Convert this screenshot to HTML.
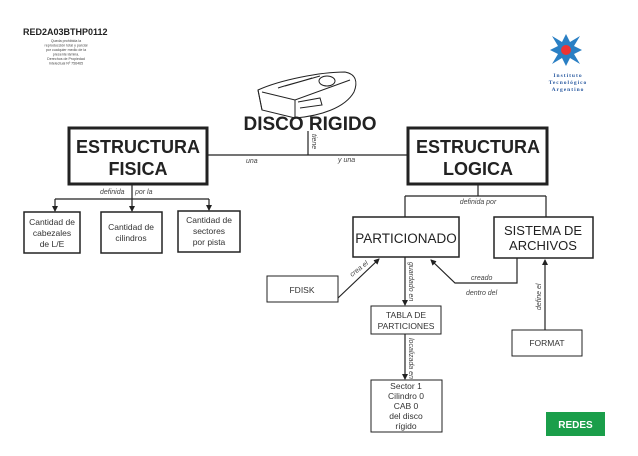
<!DOCTYPE html>
<html><head><meta charset="utf-8"><style>
body{margin:0;background:#fff;width:638px;height:451px;overflow:hidden;font-family:"Liberation Sans",sans-serif}
</style></head><body>
<svg width="638" height="451" viewBox="0 0 638 451" xmlns="http://www.w3.org/2000/svg" font-family="Liberation Sans, sans-serif">
<defs><marker id="a" markerWidth="6" markerHeight="6" refX="5" refY="3" orient="auto" markerUnits="userSpaceOnUse"><path d="M0,0 L6,3 L0,6 z" fill="#222"/></marker></defs>
<text x="23" y="35" font-size="9" font-weight="bold" fill="#222">RED2A03BTHP0112</text>
<g font-size="3.6" fill="#444" text-anchor="middle">
<text x="66" y="42">Queda prohibida la</text><text x="66" y="46.5">reproducción total y parcial</text>
<text x="66" y="51">por cualquier medio de la</text><text x="66" y="55.5">presente lámina.</text>
<text x="66" y="60">Derechos de Propiedad</text><text x="66" y="64.5">Intelectual Nº 756465</text></g>
<g transform="translate(566,50)">
<path d="M-14,-14 L-4,-8 L0,-16 L4,-8 L14,-14 L8,-4 L16,0 L8,4 L14,14 L4,8 L0,16 L-4,8 L-14,14 L-8,4 L-16,0 L-8,-4 z" fill="#2a7fc4"/>
<circle r="5" fill="#e33"/></g>
<g font-size="5.5" font-weight="bold" fill="#2a5aa0" text-anchor="middle" font-family="Liberation Serif, serif" letter-spacing="1">
<text x="568" y="77">Instituto</text><text x="568" y="84">Tecnológico</text><text x="568" y="91">Argentino</text></g>
<g fill="none" stroke="#222" stroke-width="1">
<path d="M258,90 C280,80 320,72 345,72 C356,74 358,82 354,92 C345,108 320,116 295,118 L262,110 Z"/>
<path d="M258,90 L262,110"/>
<path d="M262,92 L295,100 L350,80"/>
<path d="M295,100 L295,118"/>
<ellipse cx="327" cy="81" rx="8" ry="5"/>
<path d="M285,86 L320,76 M278,88 C290,84 300,82 312,78"/>
<path d="M298,102 L320,98 L322,105 L300,108"/>
</g>
<text x="310" y="130" font-size="19" font-weight="bold" fill="#222" text-anchor="middle">DISCO RIGIDO</text>
<g stroke="#222" fill="none">
<rect x="69" y="128" width="138" height="56" stroke-width="3"/>
<rect x="408" y="128" width="139" height="56" stroke-width="3"/>
<path d="M207,155 H408 M308,131 V155" stroke-width="1.2"/>
</g>
<g font-size="18" font-weight="bold" fill="#222" text-anchor="middle">
<text x="138" y="153">ESTRUCTURA</text><text x="138" y="175">FISICA</text>
<text x="478" y="153">ESTRUCTURA</text><text x="478" y="175">LOGICA</text></g>
<g font-size="7" font-style="italic" fill="#444">
<text x="246" y="163">una</text><text x="338" y="162">y una</text>
<text transform="translate(312,134) rotate(90)">tiene</text>
<text x="100" y="194">definida</text><text x="135" y="194">por la</text>
<text x="478" y="204" text-anchor="middle">definida por</text>
<text transform="translate(352,277) rotate(-38)">crea el</text>
<text transform="translate(409,262) rotate(90)">guardado en</text>
<text transform="translate(409,338) rotate(90)">localizada en</text>
<text x="471" y="280">creado</text><text x="466" y="295">dentro del</text>
<text transform="translate(541,310) rotate(-90)">define el</text>
</g>
<g stroke="#222" stroke-width="1.2" fill="none">
<path d="M132,184 V199 M55,199 H209"/>
<path d="M55,199 V211" marker-end="url(#a)"/><path d="M132,199 V211" marker-end="url(#a)"/><path d="M209,199 V210" marker-end="url(#a)"/>
<rect x="24" y="212" width="56" height="41" stroke-width="1.5"/>
<rect x="101" y="212" width="61" height="41" stroke-width="1.5"/>
<rect x="178" y="211" width="62" height="41" stroke-width="1.5"/>
</g>
<g font-size="8.5" fill="#333" text-anchor="middle">
<text x="52" y="225">Cantidad de</text><text x="52" y="236">cabezales</text><text x="52" y="247">de L/E</text>
<text x="131" y="230">Cantidad de</text><text x="131" y="241">cilindros</text>
<text x="209" y="223">Cantidad de</text><text x="209" y="234">sectores</text><text x="209" y="245">por pista</text>
</g>
<g stroke="#222" stroke-width="1.2" fill="none">
<path d="M478,184 V196 M405,196 H546 M405,196 V217 M546,196 V217"/>
<rect x="353" y="217" width="106" height="40" stroke-width="1.5"/>
<rect x="494" y="217" width="99" height="41" stroke-width="1.5"/>
<rect x="267" y="276" width="71" height="26" stroke-width="1"/>
<rect x="371" y="306" width="70" height="28" stroke-width="1"/>
<rect x="371" y="380" width="71" height="52" stroke-width="1"/>
<rect x="512" y="330" width="70" height="26" stroke-width="1"/>
<path d="M338,298 L379,259" marker-end="url(#a)"/>
<path d="M405,257 V305" marker-end="url(#a)"/>
<path d="M405,334 V379" marker-end="url(#a)"/>
<path d="M517,258 V283 H455 L431,260" marker-end="url(#a)"/>
<path d="M545,330 V260" marker-end="url(#a)"/>
</g>
<g fill="#222" text-anchor="middle">
<text x="406" y="243" font-size="13.5">PARTICIONADO</text>
<text x="543" y="235" font-size="13">SISTEMA DE</text><text x="543" y="250" font-size="13">ARCHIVOS</text>
<g font-size="8.5" fill="#333">
<text x="302" y="293">FDISK</text>
<text x="406" y="318">TABLA DE</text><text x="406" y="329">PARTICIONES</text>
<text x="406" y="389">Sector 1</text><text x="406" y="399">Cilindro 0</text><text x="406" y="409">CAB 0</text><text x="406" y="419">del disco</text><text x="406" y="429">rígido</text>
<text x="547" y="346">FORMAT</text></g></g>
<rect x="546" y="412" width="59" height="24" fill="#1a9e4a"/>
<text x="575.5" y="428" font-size="10" font-weight="bold" fill="#fff" text-anchor="middle">REDES</text>
</svg>
</body></html>
